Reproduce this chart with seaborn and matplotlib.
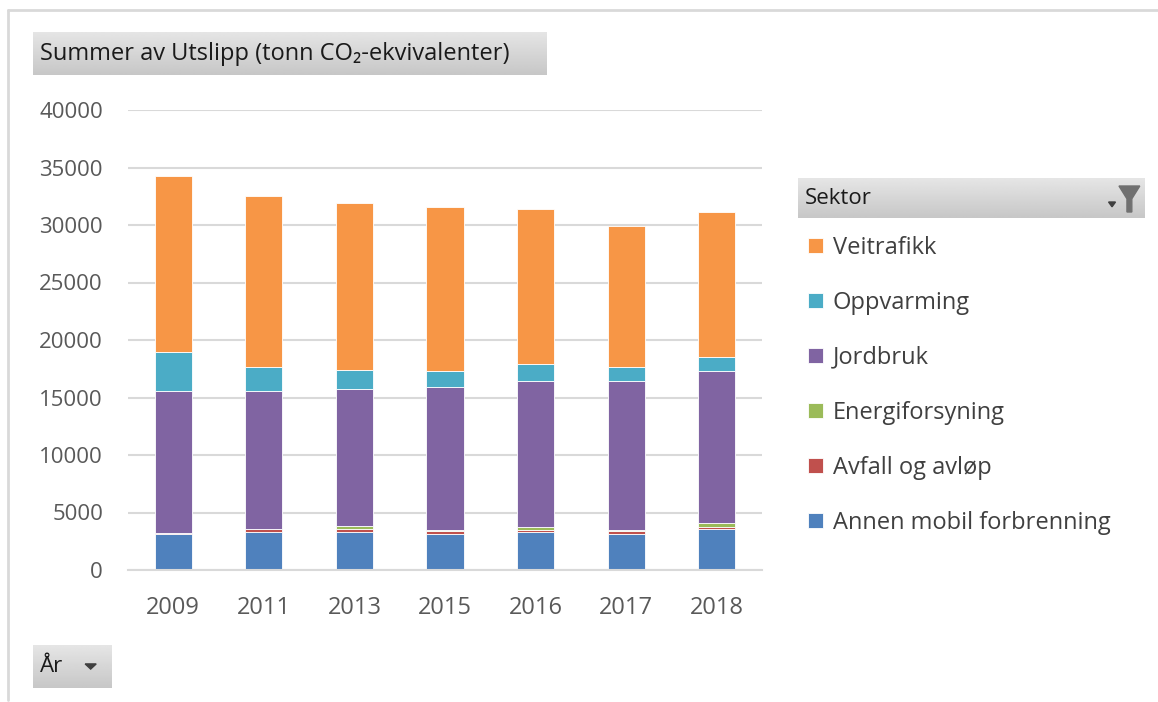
import numpy as np
import pandas as pd
import matplotlib
matplotlib.use("Agg")
import matplotlib.pyplot as plt
from matplotlib.patches import Polygon
from matplotlib.lines import Line2D
import seaborn as sns

# Data (tonn CO2-ekvivalenter)
years = ["2009", "2011", "2013", "2015", "2016", "2017", "2018"]
annen_mobil = [3100, 3300, 3300, 3100, 3300, 3100, 3600]
avfall = [150, 270, 250, 250, 200, 250, 130]
energi = [0, 20, 260, 120, 200, 120, 390]
jordbruk = [12290, 11950, 11950, 12470, 12730, 12990, 13160]
oppvarming = [3390, 2140, 1620, 1340, 1510, 1220, 1240]
veitrafikk = [15360, 14840, 14550, 14290, 13480, 12260, 12640]

sectors = ["Annen mobil forbrenning", "Avfall og avløp", "Energiforsyning",
           "Jordbruk", "Oppvarming", "Veitrafikk"]
colors = ["#4F81BD", "#C0504D", "#9BBB59", "#8064A2", "#4BACC6", "#F79646"]

df = pd.DataFrame({"År": years,
                   sectors[0]: annen_mobil, sectors[1]: avfall, sectors[2]: energi,
                   sectors[3]: jordbruk, sectors[4]: oppvarming, sectors[5]: veitrafikk})

sns.set_theme(style="white")
plt.rcParams["font.family"] = ["Open Sans", "DejaVu Sans"]

W, H = 1158, 702
fig = plt.figure(figsize=(W / 100, H / 100), dpi=100)


def px_box(x0, y0, x1, y1):
    # pixel box (top-left origin) -> figure fraction rect
    return [x0 / W, 1 - y1 / H, (x1 - x0) / W, (y1 - y0) / H]


def grey_button(x0, y0, x1, y1):
    bax = fig.add_axes(px_box(x0, y0, x1, y1))
    grad = np.linspace(0.90, 0.78, 50).reshape(-1, 1)
    bax.imshow(grad, cmap="gray", vmin=0, vmax=1, aspect="auto", extent=(0, 1, 0, 1))
    bax.set_xlim(0, 1)
    bax.set_ylim(0, 1)
    bax.axis("off")
    return bax


# Main plot area
ax = fig.add_axes(px_box(128, 110, 762, 570))
bottom = np.zeros(len(years))
for name, col in zip(sectors, colors):
    sns.barplot(data=df, x="År", y=name, color=col, width=0.41, bottom=bottom,
                edgecolor="#FFFFFF", linewidth=0.6, saturation=1, ax=ax, label=name)
    bottom = bottom + df[name].to_numpy()

handles, labels = ax.get_legend_handles_labels()
if ax.get_legend() is not None:
    ax.get_legend().remove()

ax.set_ylim(0, 40000)
ax.set_yticks(range(0, 40001, 5000))
ax.yaxis.grid(True, color="#D9D9D9", linewidth=1.5)
ax.set_axisbelow(True)
for s in ["top", "right", "left"]:
    ax.spines[s].set_visible(False)
ax.spines["bottom"].set_color("#D9D9D9")
ax.spines["bottom"].set_linewidth(1.5)
ax.set_xlabel("")
ax.set_ylabel("")
ax.tick_params(axis="y", labelsize=16, labelcolor="#595959", pad=18, length=0)
ax.tick_params(axis="x", labelsize=17, labelcolor="#595959", pad=19, length=0)

# Legend (reversed order, as in the reference)
leg = fig.legend(handles[::-1], labels[::-1], loc="upper left",
                 bbox_to_anchor=(808 / W, 1 - 236 / H), frameon=False,
                 fontsize=17, handlelength=0.62, handleheight=0.62,
                 handletextpad=0.42, labelspacing=1.31, borderaxespad=0, borderpad=0)
for t in leg.get_texts():
    t.set_color("#404040")

# Title button
tb = grey_button(33, 32, 547, 75)
tb.text(0.013, 0.48, "Summer av Utslipp (tonn CO₂-ekvivalenter)", fontsize=17,
        color="#1A1A1A", va="center", ha="left")

# Sektor button with funnel
sb = grey_button(798, 178, 1145, 218)
sb.text(0.02, 0.48, "Sektor", fontsize=16, color="#1A1A1A", va="center", ha="left")
sb.add_patch(Polygon([[0.925, 0.80], [0.985, 0.80], [0.962, 0.48], [0.962, 0.15],
                      [0.948, 0.15], [0.948, 0.48]], closed=True, color="#707070"))
sb.add_patch(Polygon([[0.895, 0.40], [0.915, 0.40], [0.905, 0.28]], closed=True, color="#404040"))

# År button
ab = grey_button(33, 645, 112, 688)
ab.text(0.09, 0.5, "År", fontsize=16, color="#1A1A1A", va="center", ha="left")
ab.add_patch(Polygon([[0.66, 0.56], [0.80, 0.56], [0.73, 0.44]], closed=True, color="#404040"))

# Outer chart frame (top and left edges)
fig.add_artist(Line2D([8 / W, 8 / W], [1 - 700 / H, 1 - 10 / H], color="#D9D9D9", linewidth=2))
fig.add_artist(Line2D([8 / W, 1], [1 - 10 / H, 1 - 10 / H], color="#D9D9D9", linewidth=2))

fig.savefig("out.png", dpi=100)
